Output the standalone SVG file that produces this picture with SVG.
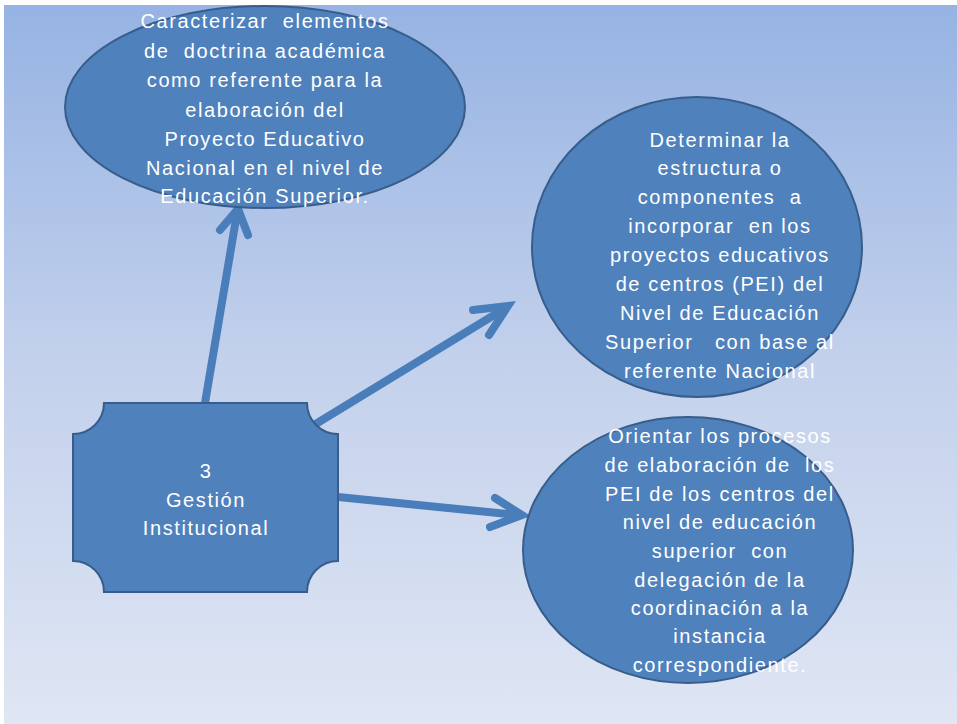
<svg xmlns="http://www.w3.org/2000/svg" width="957" height="724" viewBox="0 0 957 724">
<defs>
<linearGradient id="bg" x1="0" y1="0" x2="0" y2="1">
<stop offset="0" stop-color="#96b3e3"/>
<stop offset="0.5" stop-color="#c3d1ec"/>
<stop offset="1" stop-color="#dfe6f4"/>
</linearGradient>
<style>
.shape{fill:#4f81bd;stroke:#385d8a;stroke-width:2}
.lbl{font-family:"Liberation Sans",Arial,sans-serif;font-size:20px;fill:#ffffff;text-anchor:middle;letter-spacing:1.6px;white-space:pre}
.conn{fill:none;stroke:#4a7ebb;stroke-width:8;stroke-linecap:round;stroke-linejoin:miter}
</style>
</defs>
<rect x="0" y="0" width="957" height="724" fill="#ffffff"/>
<rect x="4" y="5" width="953" height="719" fill="url(#bg)"/>
<g id="connectors">
<line class="conn" x1="205" y1="403" x2="237" y2="213"/>
<polyline class="conn" points="220,230 238,209 248,235"/>
<line class="conn" x1="314" y1="425" x2="504" y2="309"/>
<polyline class="conn" points="473,310 508,306 489,335"/>
<line class="conn" x1="338" y1="497" x2="518" y2="515"/>
<polyline class="conn" points="495,498 522,515 490,527"/>
</g>
<g id="node-top">
<ellipse class="shape" cx="265" cy="107" rx="200" ry="101"/>
<text class="lbl" xml:space="preserve"><tspan x="265" y="28">Caracterizar  elementos</tspan><tspan x="265" y="58">de  doctrina académica</tspan><tspan x="265" y="87">como referente para la</tspan><tspan x="265" y="117">elaboración del</tspan><tspan x="265" y="146">Proyecto Educativo</tspan><tspan x="265" y="175">Nacional en el nivel de</tspan><tspan x="265" y="203">Educación Superior.</tspan></text>
</g>
<g id="node-right1">
<ellipse class="shape" cx="697" cy="247" rx="165" ry="150"/>
<text class="lbl" xml:space="preserve"><tspan x="720" y="147">Determinar la</tspan><tspan x="720" y="175">estructura o</tspan><tspan x="720" y="204">componentes  a</tspan><tspan x="720" y="233">incorporar  en los</tspan><tspan x="720" y="262">proyectos educativos</tspan><tspan x="720" y="291">de centros (PEI) del</tspan><tspan x="720" y="320">Nivel de Educación</tspan><tspan x="720" y="349">Superior   con base al</tspan><tspan x="720" y="378">referente Nacional</tspan></text>
</g>
<g id="node-right2">
<ellipse class="shape" cx="688" cy="550" rx="165" ry="133"/>
<text class="lbl" xml:space="preserve"><tspan x="720" y="443">Orientar los procesos</tspan><tspan x="720" y="472">de elaboración de  los</tspan><tspan x="720" y="501">PEI de los centros del</tspan><tspan x="720" y="529">nivel de educación</tspan><tspan x="720" y="558">superior  con</tspan><tspan x="720" y="587">delegación de la</tspan><tspan x="720" y="615">coordinación a la</tspan><tspan x="720" y="643">instancia</tspan><tspan x="720" y="672">correspondiente.</tspan></text>
</g>
<g id="node-gestion">
<path class="shape" d="M104,403 H307 A31,31 0 0 0 338,434 V561 A31,31 0 0 0 307,592 H104 A31,31 0 0 0 73,561 V434 A31,31 0 0 0 104,403 Z"/>
<text class="lbl" xml:space="preserve"><tspan x="206" y="478">3</tspan><tspan x="206" y="507">Gestión</tspan><tspan x="206" y="535">Institucional</tspan></text>
</g>
</svg>
